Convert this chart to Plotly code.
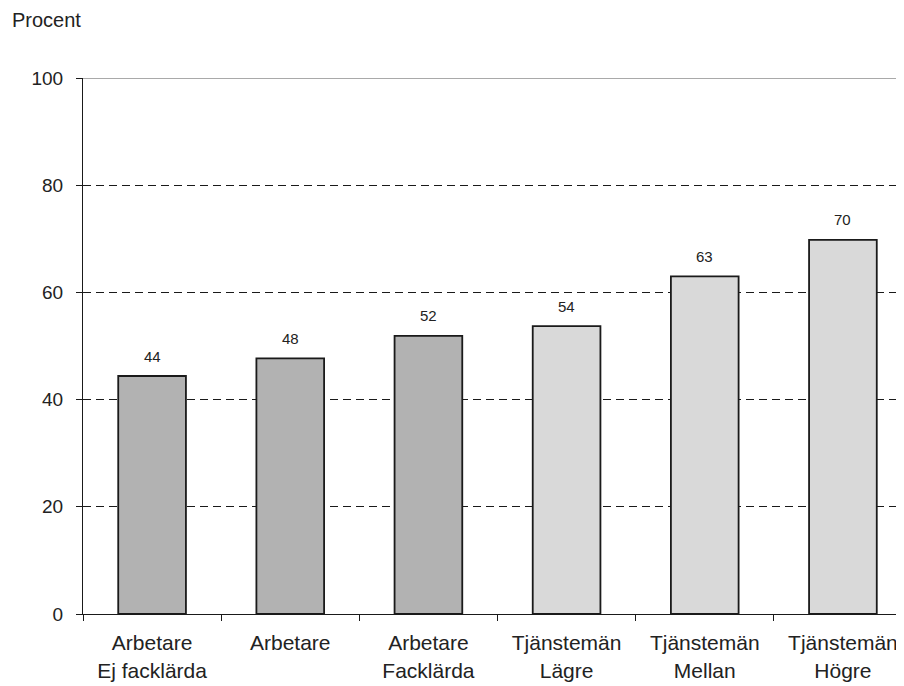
import plotly.graph_objects as go

categories = ["Arbetare<br>Ej facklärda", "Arbetare", "Arbetare<br>Facklärda",
              "Tjänstemän<br>Lägre", "Tjänstemän<br>Mellan", "Tjänstemän<br>Högre"]
values = [44.4, 47.7, 51.9, 53.7, 63.0, 69.8]
labels = ["44", "48", "52", "54", "63", "70"]
colors = ["#b2b2b2", "#b2b2b2", "#b2b2b2", "#d9d9d9", "#d9d9d9", "#d9d9d9"]
y_ticks = [0, 20, 40, 60, 80, 100]

font_family = "Liberation Sans, Arial, sans-serif"

L, R, T, B = 75, 0, 70, 80
W, H = 904, 686
plot_h = H - T - B

fig = go.Figure()
fig.add_trace(go.Bar(
    x=categories, y=values,
    marker=dict(color=colors, line=dict(color="#1a1a1a", width=1.8)),
    width=0.49,
    hoverinfo="skip",
))

for c, v, t in zip(categories, values, labels):
    fig.add_annotation(x=c, y=v, text=t, showarrow=False, yanchor="middle",
                       yshift=20, font=dict(size=15, color="#222222", family=font_family))

# top frame line at 100
fig.add_shape(type="line", xref="paper", yref="y", x0=0, x1=1, y0=100, y1=100,
              line=dict(color="#8c8c8c", width=1.5), layer="above")

fig.add_annotation(text="Procent", xref="paper", yref="paper",
                   x=-(L - 2) / (W - L - R), y=1 + (T - 12) / plot_h,
                   xanchor="left", yanchor="middle", showarrow=False,
                   font=dict(size=20, color="#222222", family=font_family))

fig.update_layout(
    width=W, height=H,
    margin=dict(l=L, r=R, t=T, b=B),
    paper_bgcolor="white", plot_bgcolor="white",
    showlegend=False,
    font=dict(family=font_family, color="#222222"),
    xaxis=dict(
        type="category",
        range=[-0.5, 5.5],
        showline=True, linecolor="#1a1a1a", linewidth=1.2,
        ticks="outside", ticklen=6, tickcolor="#1a1a1a", tickson="boundaries",
        showgrid=False, tickfont=dict(size=21, color="#222222"),
        ticklabelstandoff=10,
        fixedrange=True,
    ),
    yaxis=dict(
        range=[0, 100], tickvals=y_ticks,
        showline=True, linecolor="#1a1a1a", linewidth=1.2,
        ticks="outside", ticklen=6, tickcolor="#1a1a1a",
        showgrid=True, gridcolor="#1a1a1a", gridwidth=1, griddash="8px,5px",
        zeroline=False,
        tickfont=dict(size=19, color="#222222"),
        ticklabelstandoff=9,
    ),
)

fig.write_html("out.html")
